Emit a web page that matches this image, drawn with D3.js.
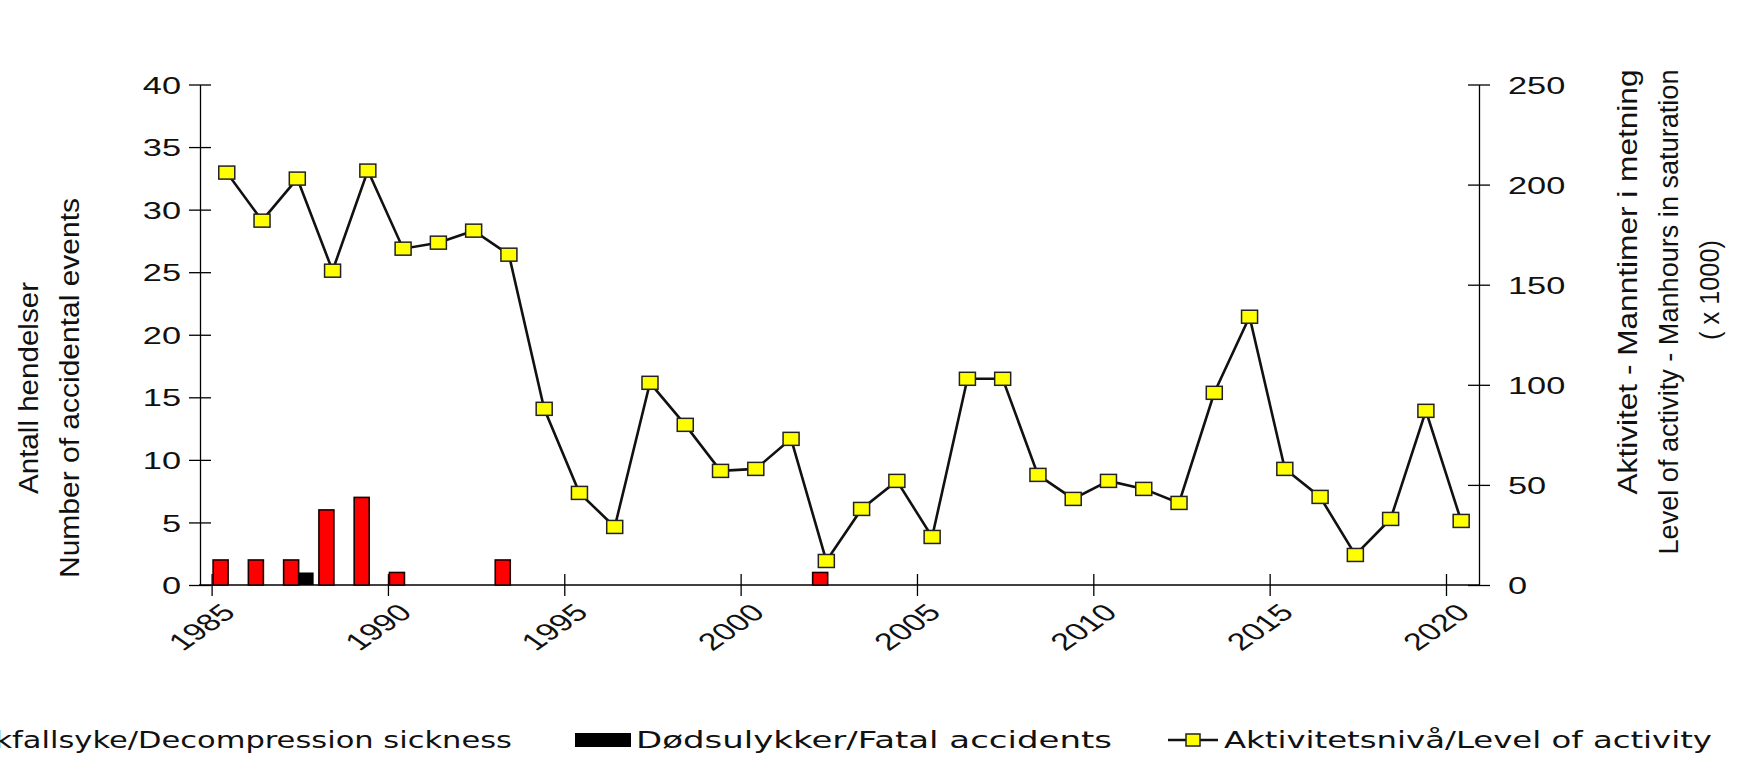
<!DOCTYPE html>
<html>
<head>
<meta charset="utf-8">
<script src="https://cdn.jsdelivr.net/npm/d3@7/dist/d3.min.js"></script>
<style>
  body { margin: 0; background: #fff; overflow: hidden; }
  svg { display: block; }
</style>
</head>
<body>
<svg id="chart" width="1744" height="758"></svg>
<script>
// activity level (manhours in saturation, x 1000), one value per year
const years = [1985, 1986, 1987, 1988, 1989, 1990, 1991, 1992, 1993, 1994, 1995, 1996,
  1997, 1998, 1999, 2000, 2001, 2002, 2003, 2004, 2005, 2006, 2007, 2008,
  2009, 2010, 2011, 2012, 2013, 2014, 2015, 2016, 2017, 2018, 2019, 2020];
const activity = [206, 182, 203, 157, 207, 168, 171, 177, 165, 88, 46, 29,
  101, 80, 57, 58, 73, 12, 38, 52, 24, 103, 103, 55,
  43, 52, 48, 41, 96, 134, 58, 44, 15, 33, 87, 32];

// decompression sickness events
const dcsYears = [1985, 1986, 1987, 1988, 1989, 1990, 1993, 2002];
const dcsCounts = [2, 2, 2, 6, 7, 1, 2, 1];

// fatal accidents
const fatalYears = [1987];
const fatalCounts = [1];

const leftTicks = [0, 5, 10, 15, 20, 25, 30, 35, 40];
const rightTicks = [0, 50, 100, 150, 200, 250];
const xTicks = [1985, 1990, 1995, 2000, 2005, 2010, 2015, 2020];

const svg = d3.select("#chart");
const numFont = "'Liberation Sans', Arial, sans-serif";
const legFont = "'DejaVu Sans', Verdana, sans-serif";
const stretch = 1.43; // the original picture is stretched sideways

const plotLeft = 200, plotRight = 1479, plotTop = 84.5, plotBottom = 585;

const x = d3.scaleLinear().domain([1985, 2020]).range([211.6, 1446]);
const yLeft = d3.scaleLinear().domain([0, 40]).range([plotBottom, plotTop]);
const yRight = d3.scaleLinear().domain([0, 250]).range([plotBottom, plotTop]);

// axes
const gLeft = svg.append("g")
  .attr("transform", `translate(${plotLeft},0)`)
  .call(d3.axisLeft(yLeft).tickValues(leftTicks).tickFormat("").tickSizeOuter(0));
gLeft.selectAll(".tick line").attr("x1", -11).attr("x2", 11);
gLeft.selectAll(".tick").append("g")
  .attr("transform", `translate(-19,0) scale(${stretch},1)`)
  .append("text")
  .attr("text-anchor", "end")
  .attr("dy", "0.36em")
  .attr("fill", "#111")
  .style("font-family", numFont)
  .style("font-size", "24px")
  .text(d => d);

const gRight = svg.append("g")
  .attr("transform", `translate(${plotRight},0)`)
  .call(d3.axisRight(yRight).tickValues(rightTicks).tickFormat("").tickSizeOuter(0));
gRight.selectAll(".tick line").attr("x1", -11).attr("x2", 11);
gRight.selectAll(".tick").append("g")
  .attr("transform", `translate(29,0) scale(${stretch},1)`)
  .append("text")
  .attr("text-anchor", "start")
  .attr("dy", "0.36em")
  .attr("fill", "#111")
  .style("font-family", numFont)
  .style("font-size", "24px")
  .text(d => d);

const gX = svg.append("g")
  .attr("transform", `translate(0,${plotBottom})`)
  .call(d3.axisBottom(x).tickValues(xTicks).tickFormat("").tickSizeOuter(0));
gX.select(".domain").remove();
gX.append("line")
  .attr("x1", plotLeft - 1).attr("x2", plotRight)
  .attr("stroke", "#000").attr("stroke-width", 1.3);
gX.selectAll(".tick line").attr("y1", -11).attr("y2", 11);
gX.selectAll(".tick").append("g")
  .attr("transform", `translate(25,29) scale(${stretch},1) rotate(-45)`)
  .append("text")
  .attr("text-anchor", "end")
  .attr("fill", "#111")
  .style("font-family", numFont)
  .style("font-size", "24px")
  .text(d => d);

svg.selectAll(".domain").attr("stroke-width", 1.3);
svg.selectAll(".tick line").attr("stroke-width", 1.3);

// axis titles (rotated, lengths)
const leftTitle = ["Antall hendelser", "Number of accidental events"];
const leftTitleLen = [212, 380];
svg.selectAll(".ltitle")
  .data(leftTitle)
  .enter()
  .append("text")
  .attr("class", "ltitle")
  .attr("transform", (d, i) => `translate(${38 + i * 41},388) rotate(-90)`)
  .attr("text-anchor", "middle")
  .attr("textLength", (d, i) => leftTitleLen[i])
  .attr("lengthAdjust", "spacingAndGlyphs")
  .attr("fill", "#111")
  .style("font-family", numFont)
  .style("font-size", "27px")
  .text(d => d);

const rightTitle = ["Aktivitet - Manntimer i metning", "Level of activity - Manhours in saturation", "( x 1000)"];
const rightTitleLen = [425, 485, 100];
const rightTitleMid = [282, 312, 290];
svg.selectAll(".rtitle")
  .data(rightTitle)
  .enter()
  .append("text")
  .attr("class", "rtitle")
  .attr("transform", (d, i) => `translate(${1637 + i * 41},${rightTitleMid[i]}) rotate(-90)`)
  .attr("text-anchor", "middle")
  .attr("textLength", (d, i) => rightTitleLen[i])
  .attr("lengthAdjust", "spacingAndGlyphs")
  .attr("fill", "#111")
  .style("font-family", numFont)
  .style("font-size", "27px")
  .text(d => d);

// bars
const barW = 15;
svg.selectAll(".dcs")
  .data(dcsYears.map((y, i) => ({ year: y, value: dcsCounts[i] })))
  .enter()
  .append("rect")
  .attr("class", "dcs")
  .attr("x", d => x(d.year) + 1.5)
  .attr("y", d => yLeft(d.value))
  .attr("width", barW)
  .attr("height", d => plotBottom - yLeft(d.value))
  .attr("fill", "#ff0000")
  .attr("stroke", "#1a0000")
  .attr("stroke-width", 1.6);

svg.selectAll(".fatal")
  .data(fatalYears.map((y, i) => ({ year: y, value: fatalCounts[i] })))
  .enter()
  .append("rect")
  .attr("class", "fatal")
  .attr("x", d => x(d.year) + 1.5 + barW)
  .attr("y", d => yLeft(d.value))
  .attr("width", barW)
  .attr("height", d => plotBottom - yLeft(d.value))
  .attr("fill", "#000");

// activity line
const pts = years.map((y, i) => ({ year: y, value: activity[i] }));
const line = d3.line()
  .x(d => x(d.year + 0.43))
  .y(d => yRight(d.value));

svg.append("path")
  .datum(pts)
  .attr("d", line)
  .attr("fill", "none")
  .attr("stroke", "#111")
  .attr("stroke-width", 2.6);

svg.selectAll(".mark")
  .data(pts)
  .enter()
  .append("rect")
  .attr("class", "mark")
  .attr("x", d => x(d.year + 0.43) - 8)
  .attr("y", d => yRight(d.value) - 6.5)
  .attr("width", 16)
  .attr("height", 13)
  .attr("fill", "#ffff00")
  .attr("stroke", "#222")
  .attr("stroke-width", 1.5);

// legend
const legend = svg.append("g").attr("id", "legend");
const legY = 748;

legend.append("text")
  .attr("x", 512).attr("y", legY)
  .attr("text-anchor", "end")
  .attr("textLength", 580)
  .attr("lengthAdjust", "spacingAndGlyphs")
  .attr("fill", "#111")
  .style("font-family", legFont)
  .style("font-size", "23px")
  .text("Trykkfallsyke/Decompression sickness");
legend.append("rect")
  .attr("x", -140).attr("y", 733).attr("width", 56).attr("height", 14)
  .attr("fill", "#ff0000").attr("stroke", "#000");

legend.append("rect")
  .attr("x", 575).attr("y", 733).attr("width", 56).attr("height", 14)
  .attr("fill", "#000");
legend.append("text")
  .attr("x", 636).attr("y", legY)
  .attr("textLength", 476)
  .attr("lengthAdjust", "spacingAndGlyphs")
  .attr("fill", "#111")
  .style("font-family", legFont)
  .style("font-size", "23px")
  .text("Dødsulykker/Fatal accidents");

legend.append("line")
  .attr("x1", 1168).attr("x2", 1218).attr("y1", 740).attr("y2", 740)
  .attr("stroke", "#111").attr("stroke-width", 2.6);
legend.append("rect")
  .attr("x", 1186).attr("y", 734).attr("width", 14).attr("height", 12)
  .attr("fill", "#ffff00").attr("stroke", "#222").attr("stroke-width", 1.5);
legend.append("text")
  .attr("x", 1224).attr("y", legY)
  .attr("textLength", 488)
  .attr("lengthAdjust", "spacingAndGlyphs")
  .attr("fill", "#111")
  .style("font-family", legFont)
  .style("font-size", "23px")
  .text("Aktivitetsnivå/Level of activity");
</script>
</body>
</html>
